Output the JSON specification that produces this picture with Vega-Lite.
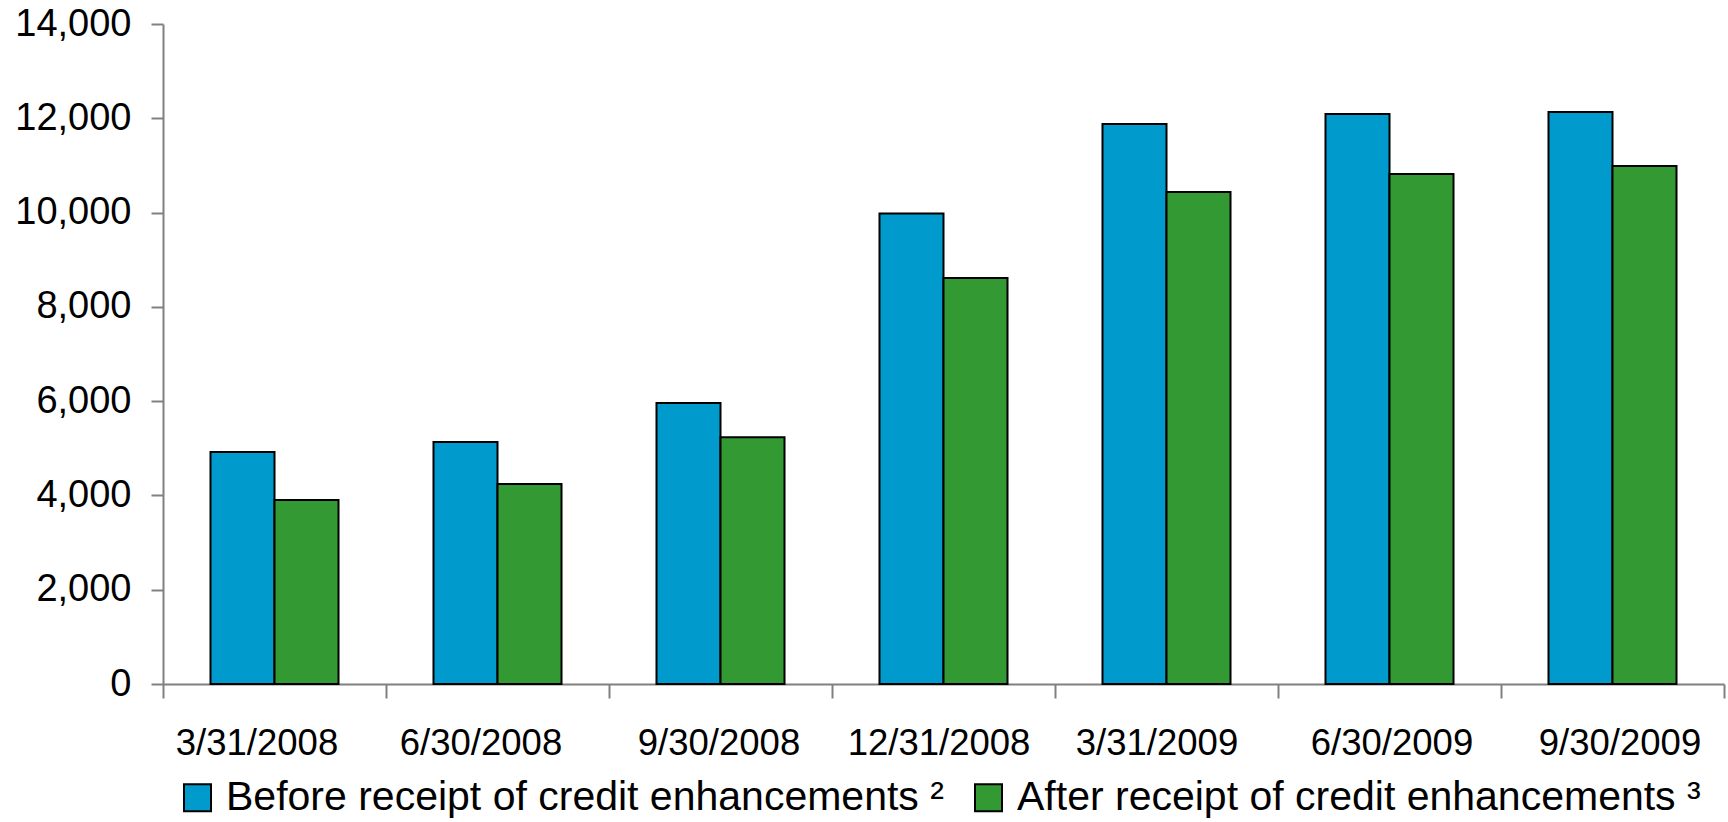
{
  "$schema": "https://vega.github.io/schema/vega-lite/v6.json",
  "width": 1561,
  "height": 660,
  "autosize": {"type": "none"},
  "padding": {"left": 163, "top": 24, "right": 4, "bottom": 138},
  "background": "white",
  "config": {"view": {"stroke": null}, "font": "Liberation Sans"},
  "data": {
    "values": [
      {"date": "3/31/2008", "series": "Before receipt of credit enhancements", "value": 4920},
      {"date": "3/31/2008", "series": "After receipt of credit enhancements", "value": 3903},
      {"date": "6/30/2008", "series": "Before receipt of credit enhancements", "value": 5133},
      {"date": "6/30/2008", "series": "After receipt of credit enhancements", "value": 4242},
      {"date": "9/30/2008", "series": "Before receipt of credit enhancements", "value": 5960},
      {"date": "9/30/2008", "series": "After receipt of credit enhancements", "value": 5235},
      {"date": "12/31/2008", "series": "Before receipt of credit enhancements", "value": 9978},
      {"date": "12/31/2008", "series": "After receipt of credit enhancements", "value": 8612},
      {"date": "3/31/2009", "series": "Before receipt of credit enhancements", "value": 11880},
      {"date": "3/31/2009", "series": "After receipt of credit enhancements", "value": 10436},
      {"date": "6/30/2009", "series": "Before receipt of credit enhancements", "value": 12091},
      {"date": "6/30/2009", "series": "After receipt of credit enhancements", "value": 10818},
      {"date": "9/30/2009", "series": "Before receipt of credit enhancements", "value": 12133},
      {"date": "9/30/2009", "series": "After receipt of credit enhancements", "value": 10988}
    ]
  },
  "mark": {"type": "bar", "stroke": "#000000", "strokeWidth": 2},
  "encoding": {
    "x": {
      "field": "date",
      "type": "nominal",
      "sort": null,
      "scale": {"paddingInner": 0, "paddingOuter": 0},
      "axis": {
        "title": null,
        "labelAngle": 0,
        "tickBand": "extent",
        "domainColor": "#808080",
        "domainWidth": 2,
        "tickColor": "#808080",
        "tickWidth": 2,
        "tickSize": 14,
        "labelFontSize": 36.5,
        "labelColor": "#000000",
        "labelPadding": 27,
        "labelLimit": 400,
        "labelOffset": {
          "condition": [
            {"test": "datum.value == '3/31/2008'", "value": -18},
            {"test": "datum.value == '6/30/2008'", "value": -17},
            {"test": "datum.value == '9/30/2008'", "value": -2},
            {"test": "datum.value == '12/31/2008'", "value": -5},
            {"test": "datum.value == '3/31/2009'", "value": -10},
            {"test": "datum.value == '6/30/2009'", "value": 2}
          ],
          "value": 7
        }
      }
    },
    "xOffset": {
      "field": "series",
      "type": "nominal",
      "sort": ["Before receipt of credit enhancements", "After receipt of credit enhancements"],
      "scale": {"paddingInner": 0, "paddingOuter": 0.742}
    },
    "y": {
      "field": "value",
      "type": "quantitative",
      "scale": {"domain": [0, 14000], "nice": false},
      "axis": {
        "title": null,
        "grid": false,
        "values": [0, 2000, 4000, 6000, 8000, 10000, 12000, 14000],
        "format": ",d",
        "domainColor": "#808080",
        "domainWidth": 2,
        "tickColor": "#808080",
        "tickWidth": 2,
        "tickSize": 12,
        "labelFontSize": 38,
        "labelColor": "#000000",
        "labelPadding": 20
      }
    },
    "color": {
      "field": "series",
      "type": "nominal",
      "sort": ["Before receipt of credit enhancements", "After receipt of credit enhancements"],
      "scale": {
        "domain": ["Before receipt of credit enhancements", "After receipt of credit enhancements"],
        "range": ["#009ACD", "#339933"]
      },
      "legend": {
        "title": null,
        "orient": "none",
        "direction": "horizontal",
        "legendX": 14,
        "legendY": 753,
        "symbolType": "square",
        "symbolSize": 729,
        "symbolStrokeColor": "#000000",
        "symbolStrokeWidth": 2,
        "symbolOpacity": 1,
        "labelFontSize": 41,
        "labelColor": "#000000",
        "labelOffset": 8,
        "labelLimit": 1000,
        "columnPadding": 24,
        "labelExpr": "datum.label + (datum.label[0] == 'B' ? ' \u00b2' : ' \u00b3')"
      }
    }
  }
}
